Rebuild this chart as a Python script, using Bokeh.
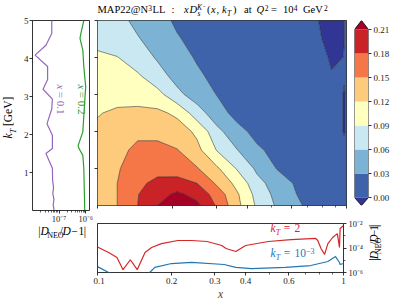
import numpy as np
from math import pi
from bokeh.plotting import figure
from bokeh.layouts import row, column
from bokeh.models import FixedTicker, Label, Range1d
from bokeh.embed import file_html
from bokeh.resources import INLINE

SERIF = "Liberation Serif"

# ---------------- data ----------------
x_grid = [0.1, 0.12, 0.145, 0.174, 0.209, 0.251, 0.302, 0.363, 0.437, 0.525, 0.631, 0.759, 0.871, 0.977, 1.0]
kt_grid = [0.0, 0.3, 0.6, 1.0, 1.5, 2.0, 2.5, 3.0, 3.5, 4.0, 4.5, 5.0]
xD_grid = [
    [0.132, 0.150, 0.180, 0.210, 0.228, 0.217, 0.176, 0.128, 0.085, 0.056, 0.034, 0.019, 0.009, 0.002, 0.0005],
    [0.131, 0.150, 0.179, 0.200, 0.216, 0.200, 0.166, 0.124, 0.079, 0.051, 0.030, 0.018, 0.008, 0.002, 0.0005],
    [0.130, 0.150, 0.173, 0.189, 0.192, 0.180, 0.145, 0.111, 0.070, 0.045, 0.026, 0.015, 0.007, 0.0015, 0.0005],
    [0.127, 0.148, 0.162, 0.168, 0.165, 0.152, 0.124, 0.088, 0.054, 0.029, 0.016, 0.008, 0.003, 0.0008, 0.0003],
    [0.126, 0.143, 0.156, 0.157, 0.151, 0.128, 0.088, 0.061, 0.035, 0.020, 0.010, 0.004, 0.0015, 0.0003, 0.0002],
    [0.123, 0.135, 0.144, 0.143, 0.134, 0.114, 0.068, 0.040, 0.020, 0.010, 0.005, 0.0025, 0.001, -0.0001, 0.0001],
    [0.119, 0.123, 0.125, 0.126, 0.114, 0.073, 0.042, 0.020, 0.010, 0.005, 0.003, 0.002, 0.001, -0.0001, 0.0001],
    [0.110, 0.113, 0.111, 0.100, 0.067, 0.046, 0.029, 0.015, 0.007, 0.003, 0.002, 0.0015, 0.001, -0.0001, 0.0001],
    [0.100, 0.099, 0.094, 0.071, 0.050, 0.035, 0.021, 0.011, 0.005, 0.002, 0.001, 0.0004, 0.0001, 0.0001, 0.0001],
    [0.093, 0.091, 0.074, 0.057, 0.041, 0.027, 0.017, 0.010, 0.005, 0.002, 0.001, 0.0006, -0.0002, 0.00002, 0.0001],
    [0.085, 0.073, 0.062, 0.047, 0.032, 0.022, 0.014, 0.008, 0.004, 0.002, 0.001, 0.0003, -0.0006, -0.00002, 0.0001],
    [0.079, 0.068, 0.053, 0.038, 0.026, 0.018, 0.011, 0.006, 0.003, 0.0015, 0.0007, 0.0001, -0.0008, -0.00002, 0.0001],
]
levels = [0.00, 0.03, 0.06, 0.09, 0.12, 0.15, 0.18, 0.21]
level_colors = ["#3f63ab", "#7cb3d4", "#c9e8f2", "#ffffbf", "#fecb7c", "#f57647", "#c92227"]
under_color = "#313695"
over_color = "#a50026"
cbar_labels = ["0.00", "0.03", "0.06", "0.09", "0.12", "0.15", "0.18", "0.21"]

purple_kt = [0.0, 0.15, 0.3, 0.45, 0.6, 0.8, 1.11, 1.5, 1.63, 1.98, 2.28, 2.67, 2.93, 3.19, 3.45, 3.79, 4.09, 4.35, 4.66, 5.0]
purple_dev = [6.5e-8, 6.0e-8, 6.4e-8, 5.8e-8, 6.2e-8, 5.7e-8, 5.6e-8, 3.2e-8, 5.6e-8, 5.6e-8, 3.5e-8,
              5.3e-8, 5.6e-8, 2.5e-8, 3.7e-8, 3.7e-8, 1.25e-8, 3.2e-8, 5.3e-8, 5.3e-8]
green_kt = [0.0, 1.11, 1.45, 1.63, 1.71, 2.07, 2.49, 3.26, 3.78, 4.22, 4.53, 4.66, 5.0]
green_dev = [9.2e-7, 8.5e-7, 7.8e-7, 5.6e-7, 5.2e-7, 7.8e-7, 8.5e-7, 1.0e-6, 8.5e-7, 7.8e-7, 6.1e-7, 6.6e-7, 8.5e-7]
left_ticks = [1e-7, 1e-6]
left_tick_labels = ["10\u207b\u2077", "10\u207b\u2076"]
left_minor = [2e-8, 3e-8, 4e-8, 5e-8, 6e-8, 7e-8, 8e-8, 9e-8, 2e-7, 3e-7, 4e-7, 5e-7, 6e-7, 7e-7, 8e-7, 9e-7]
kt_ticks = [1, 2, 3, 4, 5]

red_x = [0.1, 0.111, 0.120, 0.127, 0.136, 0.145, 0.156, 0.166, 0.182, 0.212, 0.241, 0.279, 0.320, 0.333,
         0.365, 0.400, 0.495, 0.612, 0.771, 0.786, 0.810, 0.838, 0.864, 0.903, 0.944, 0.963, 0.969, 1.0]
red_dev = [1.2e-4, 4.3e-5, 1.7e-5, 1.7e-6, 1.1e-5, 1.7e-6, 4.3e-5, 1.1e-4, 2.3e-4, 4.1e-4, 4.1e-4, 3.4e-4,
           1.6e-4, 9.1e-5, 5.2e-5, 1.6e-4, 3.4e-4, 4.9e-4, 6.0e-4, 4.1e-4, 9.1e-5, 3.0e-5, 2.3e-4, 7.2e-4,
           1.5e-3, 1.1e-4, 3.9e-3, 6.9e-3]
blue_x = [0.1, 0.111, 0.125, 0.15, 0.163, 0.171, 0.2, 0.241, 0.327, 0.365, 0.423, 0.58, 0.736, 0.864, 0.928, 0.963, 0.969, 1.0]
blue_dev = [3.0e-6, 1.0e-6, 3e-7, 3e-7, 1.0e-6, 2.6e-6, 5.4e-6, 6.6e-6, 4.5e-6, 2.6e-6, 2.1e-6, 2.6e-6,
            3.7e-6, 7.9e-6, 2.0e-5, 6.6e-6, 4.5e-6, 5.4e-6]
x_ticks = [0.1, 0.2, 0.3, 0.4, 0.6, 1.0]
x_tick_labels = ["0.1", "0.2", "0.3", "0.4", "0.6", "1"]
x_minor = [0.5, 0.7, 0.8, 0.9]
dev_ticks = [1e-6, 1e-4, 1e-2]
dev_tick_labels = ["10\u207b\u2076", "10\u207b\u2074", "10\u207b\u00b2"]
dev_minor = [1e-5, 1e-3]

PURPLE, GREEN, RED, BLUE = "#9467bd", "#2ca02c", "#d62728", "#1f77b4"
CAP = 0.66  # the label anchor sits at the cap line; shift so that the baseline lands where wanted


def base_fig(width, height, borders, **kw):
    l, r, t, b = borders
    p = figure(width=width, height=height, output_backend="svg", toolbar_location=None,
               min_border_left=l, min_border_right=r, min_border_top=t, min_border_bottom=b, **kw)
    p.grid.visible = False
    p.outline_line_color = "black"
    p.outline_line_width = 0.8
    p.background_fill_color = "white"
    p.border_fill_color = "white"
    return p


def text_fig(x0, x1, y0, y1):
    # a blank canvas whose data units are page pixels (y downwards)
    p = figure(width=x1 - x0, height=y1 - y0, x_range=Range1d(x0, x1), y_range=Range1d(y1, y0),
               output_backend="svg", toolbar_location=None, min_border=0,
               x_axis_location=None, y_axis_location=None)
    p.grid.visible = False
    p.outline_line_color = None
    p.background_fill_color = "white"
    p.border_fill_color = "white"
    return p


def style_axis(ax, size="9px", hide=False, standoff=2):
    ax.axis_line_color = None
    ax.major_tick_line_color = "black"
    ax.minor_tick_line_color = "black"
    ax.major_tick_line_width = 0.8
    ax.minor_tick_line_width = 0.6
    ax.major_tick_in = 0
    ax.major_tick_out = 3
    ax.minor_tick_in = 0
    ax.minor_tick_out = 2
    ax.major_label_text_font = SERIF
    ax.major_label_text_color = "#222222"
    ax.major_label_standoff = standoff
    ax.major_label_text_font_size = size
    if hide:
        ax.major_label_text_font_size = "0px"
        ax.major_label_standoff = 0


def put(fig, text, px, py, size, color="black", italic=False, angle=0.0, fx=None, fy=None):
    """(px, py): page position of the start of the text baseline."""
    if angle == 0:
        py = py - CAP * size
    elif angle < 0:
        px = px + CAP * size
    else:
        px = px - CAP * size
    x = fx(px) if fx else px
    y = fy(py) if fy else py
    fig.add_layout(Label(x=x, y=y, text=text, text_font=SERIF, text_font_size=f"{size}px",
                         text_color=color, text_font_style="italic" if italic else "normal",
                         angle=angle, text_align="left", text_baseline="alphabetic"))


def MX(px):
    return 10 ** ((px - 97) / 249 - 1)


def KY(py):
    return (213 - py) / 38.6


def LX(px):
    return 10 ** (-7 + (px - 57) / 28)


def BY(py):
    return 10 ** (-2 - (py - 223) / 12.25)


# ---------------- y label strip: k_T [GeV] ----------------
ylab = text_fig(0, 20, 0, 302)
put(ylab, "k", 15.5, 138, 11.5, italic=True, angle=pi / 2)
put(ylab, "T", 17.8, 132.8, 8, italic=True, angle=pi / 2)
put(ylab, "[GeV]", 15.5, 125.6, 11.5, angle=pi / 2)

# ---------------- left panel ----------------
left = base_fig(73, 226, (9, 4, 20, 13), x_axis_type="log",
                x_range=Range1d(1e-8, 1.39e-6), y_range=Range1d(0, 5))
left.line(purple_dev, purple_kt, line_color=PURPLE, line_width=1.2)
left.line(green_dev, green_kt, line_color=GREEN, line_width=1.2)
left.xaxis.ticker = FixedTicker(ticks=left_ticks, minor_ticks=left_minor)
left.xaxis.major_label_overrides = dict(zip(left_ticks, left_tick_labels))
left.yaxis.ticker = FixedTicker(ticks=kt_ticks, minor_ticks=[])
style_axis(left.xaxis[0], size="8.5px", standoff=0)
style_axis(left.yaxis[0], size="9px", standoff=1)
put(left, "x", 51.5, 85, 11, PURPLE, italic=True, angle=-pi / 2, fx=LX, fy=KY)
put(left, "= 0.1", 51.5, 92.5, 11, PURPLE, angle=-pi / 2, fx=LX, fy=KY)
put(left, "x", 73.5, 85, 11, GREEN, italic=True, angle=-pi / 2, fx=LX, fy=KY)
put(left, "= 0.2", 73.5, 92.5, 11, GREEN, angle=-pi / 2, fx=LX, fy=KY)

# x label under the left panel
lxlab = text_fig(20, 93, 226, 302)
for txt, px, it, sz, dy in [("|", 27.5, False, 11.5, 0), ("D", 30.3, True, 11.5, 0), ("NEO", 38.8, False, 8, 2.5),
                            ("/", 54.8, False, 11.5, 0), ("D", 58.5, True, 11.5, 0), ("\u2212", 69.5, False, 11.5, 0),
                            ("1", 79, False, 11.5, 0), ("|", 85.5, False, 11.5, 0)]:
    put(lxlab, txt, px, 238 + dy, sz, italic=it)

# ---------------- title strip ----------------
title = text_fig(93, 393, 0, 20)
TB, SUB, SUP, SUP2 = 16, 18, 12, 9.5
for txt, px, py, sz, it in [("MAP22@N", 97, TB, 10.5, False), ("3", 147.8, SUP, 7.5, False), ("LL", 152, TB, 10.5, False),
                            (":", 171, TB, 10.5, False), ("x", 183.5, TB, 10.5, True), ("D", 189, TB, 10.5, True),
                            ("s", 197, SUB, 7.5, True), ("K", 196.5, SUP, 7.5, True), ("\u2212", 202, SUP2, 6, False),
                            ("(", 206.5, TB, 10.5, False), ("x", 210.5, TB, 10.5, True), (",", 216, TB, 10.5, False),
                            ("k", 221.5, TB, 10.5, True), ("T", 226.5, SUB, 7.5, True), (")", 232.5, TB, 10.5, False),
                            ("at", 243.5, TB, 10.5, False), ("Q", 256, TB, 10.5, True), ("2", 264.2, SUP, 7.5, False),
                            ("=", 270.5, TB, 10.5, False), ("10", 282.5, TB, 10.5, False), ("4", 293.3, SUP, 7.5, False),
                            ("GeV", 302.5, TB, 10.5, False), ("2", 323.5, SUP, 7.5, False)]:
    put(title, txt, px, py, sz, italic=it)

# ---------------- main contour ----------------
main = base_fig(257, 198, (4, 4, 0, 5), x_axis_type="log",
                x_range=Range1d(0.1, 1.0), y_range=Range1d(0, 5))
main.contour(x=x_grid, y=kt_grid, z=np.array(xD_grid), levels=[-1.0] + levels + [1.0],
             fill_color=[under_color] + level_colors + [over_color],
             line_color="#1e1e1e", line_width=0.6, line_alpha=0.85)
main.xaxis.ticker = FixedTicker(ticks=x_ticks, minor_ticks=x_minor)
main.yaxis.ticker = FixedTicker(ticks=kt_ticks, minor_ticks=[])
main.xaxis.major_label_overrides = {t: "" for t in x_ticks}
main.yaxis.major_label_overrides = {t: "" for t in kt_ticks}
style_axis(main.xaxis[0], hide=True)
style_axis(main.yaxis[0], hide=True)

# ---------------- colour bar ----------------
tri = 0.01
cbar = base_fig(43, 198, (4, 25, 0, 13), x_range=Range1d(0, 1),
                y_range=Range1d(levels[0] - tri, levels[-1] + tri * 1.125),
                x_axis_location=None, y_axis_location="right")
cbar.outline_line_color = None
cbar.quad(left=0, right=1, bottom=levels[:-1], top=levels[1:], fill_color=level_colors, line_color=None)
cbar.patches(xs=[[0, 1, 0.5], [0, 1, 0.5]],
             ys=[[levels[0], levels[0], levels[0] - tri], [levels[-1], levels[-1], levels[-1] + tri * 1.125]],
             fill_color=[under_color, over_color], line_color=None)
cbar.line(x=[0, 0.5, 1, 1, 0.5, 0, 0],
          y=[levels[0], levels[0] - tri, levels[0], levels[-1], levels[-1] + tri * 1.125, levels[-1], levels[0]],
          line_color="black", line_width=0.8)
cbar.yaxis.ticker = FixedTicker(ticks=levels, minor_ticks=[])
cbar.yaxis.major_label_overrides = dict(zip(levels, cbar_labels))
style_axis(cbar.yaxis[0], size="9px")

# ---------------- bottom panel ----------------
bottom = base_fig(274, 84, (4, 24, 5, 30), x_axis_type="log", y_axis_type="log",
                  x_range=Range1d(0.1, 1.0), y_range=Range1d(1e-6, 1e-2), y_axis_location="right")
bottom.line(red_x, red_dev, line_color=RED, line_width=1.2)
bottom.line(blue_x, blue_dev, line_color=BLUE, line_width=1.2)
bottom.xaxis.ticker = FixedTicker(ticks=x_ticks, minor_ticks=x_minor)
bottom.xaxis.major_label_overrides = dict(zip(x_ticks, x_tick_labels))
bottom.yaxis.ticker = FixedTicker(ticks=dev_ticks, minor_ticks=dev_minor)
bottom.yaxis.major_label_overrides = dict(zip(dev_ticks, dev_tick_labels))
style_axis(bottom.xaxis[0], size="9px")
style_axis(bottom.yaxis[0], size="8.5px")
bottom.xaxis.axis_label = "x"
bottom.xaxis.axis_label_text_font = SERIF
bottom.xaxis.axis_label_text_font_style = "italic"
bottom.xaxis.axis_label_text_font_size = "11.5px"
bottom.xaxis.axis_label_standoff = 1

for txt, px, py, sz, it in [("k", 272, 235, 11.5, True), ("T", 277.5, 237.5, 8, True), ("=", 285.5, 235, 11.5, False),
                            ("2", 296.5, 235, 11.5, False)]:
    put(bottom, txt, px, py, sz, RED, italic=it, fx=MX, fy=BY)
for txt, px, py, sz, it in [("k", 272, 260, 11.5, True), ("T", 277.5, 262.5, 8, True), ("=", 285.5, 260, 11.5, False),
                            ("10", 296.5, 260, 11.5, False), ("\u22123", 308, 255.5, 8, False)]:
    put(bottom, txt, px, py, sz, BLUE, italic=it, fx=MX, fy=BY)

# right label strip |D_NEO/D - 1| (reading upwards)
rlab = text_fig(367, 393, 218, 302)
for txt, off, it, sz, dx in [("|", 0, False, 11.5, 0), ("D", 2.8, True, 11.5, 0), ("NEO", 11.3, False, 8, 2.5),
                             ("/", 27.3, False, 11.5, 0), ("D", 31, True, 11.5, 0), ("\u2212", 42, False, 11.5, 0),
                             ("1", 51.5, False, 11.5, 0), ("|", 58, False, 11.5, 0)]:
    put(rlab, txt, 381 + dx, 282 - off, sz, italic=it, angle=pi / 2)

layout = row(ylab, column(left, lxlab), column(title, row(main, cbar), row(bottom, rlab)))
open("out.html", "w").write(file_html(layout, INLINE))
